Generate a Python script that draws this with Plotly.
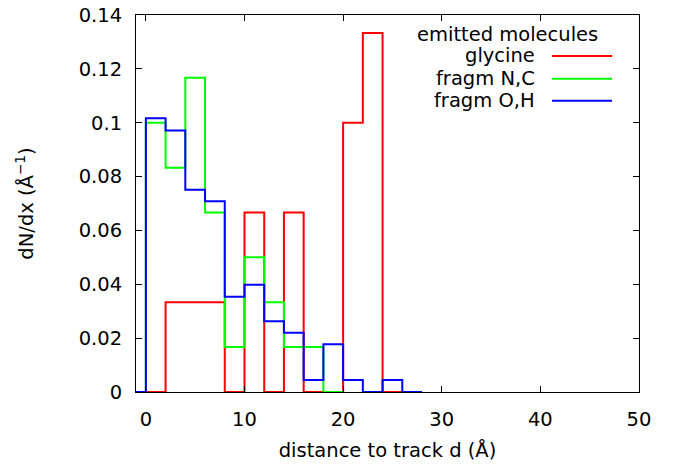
import plotly.graph_objects as go

# ---- data ----
bin_width = 2.0
glycine_start = 0.0
glycine = [0.0, 0.0333, 0.0333, 0.0333, 0.0, 0.0667, 0.0, 0.0667, 0.0, 0.0, 0.1, 0.1333, 0.0]
fragNC_start = 0.0
fragNC = [0.1, 0.0833, 0.1167, 0.0667, 0.0167, 0.05, 0.0333, 0.0167, 0.0167, 0.0]
fragOH_start = -2.0
fragOH = [0.0, 0.1017, 0.0971, 0.0751, 0.0708, 0.0354, 0.0398, 0.0263, 0.0220, 0.0045,
          0.0177, 0.0045, 0.0, 0.0045, 0.0]

series_names = ["glycine", "fragm N,C", "fragm O,H"]
series_colors = ["#ff0000", "#00ff00", "#0000ff"]
legend_title = "emitted molecules"
x_ticks = [0, 10, 20, 30, 40, 50]
y_ticks = [0, 0.02, 0.04, 0.06, 0.08, 0.1, 0.12, 0.14]
y_ticklabels = ["0", "0.02", "0.04", "0.06", "0.08", "0.1", "0.12", "0.14"]

FONT = "DejaVu Sans"
FS = 19.5


def steps(start, vals):
    xs = [start + i * bin_width for i in range(len(vals) + 1)]
    ys = list(vals) + [vals[-1]]
    return xs, ys


fig = go.Figure()
for (start, vals), name, col in zip(
        [(glycine_start, glycine), (fragNC_start, fragNC), (fragOH_start, fragOH)],
        series_names, series_colors):
    xs, ys = steps(start, vals)
    if start >= 0:
        xs = [xs[0]] + xs
        ys = [0.0] + ys
    fig.add_trace(go.Scatter(x=xs, y=ys, mode="lines", name=name,
                             line=dict(color=col, width=2, shape="hv"),
                             showlegend=False, hoverinfo="skip"))

# body margin is removed by post_script, so the figure starts at (0, 0)
W, H = 680, 464
# plot-area in window pixels: x 136..639, y 15..392
L, R, T, B = 136, 680 - 639, 15, 464 - 392
pw, ph = W - L - R, H - T - B


def px(x):
    return (x - L) / pw


def py(y):
    return (H - B - y) / ph


annotations = [dict(text=legend_title, x=px(507), y=py(34), xref="paper", yref="paper",
                    xanchor="center", yanchor="middle", showarrow=False,
                    font=dict(family=FONT, size=FS, color="black"))]
shapes = []
rows_y = [56, 78.7, 100.7]
for name, col, ry in zip(series_names, series_colors, rows_y):
    annotations.append(dict(text=name, x=px(537), y=py(ry), xref="paper", yref="paper",
                            xanchor="right", yanchor="middle", showarrow=False,
                            font=dict(family=FONT, size=FS, color="black")))
    shapes.append(dict(type="line", xref="paper", yref="paper",
                       x0=px(552), x1=px(612), y0=py(ry), y1=py(ry),
                       line=dict(color=col, width=2)))

axis_common = dict(showline=True, linecolor="black", linewidth=1, mirror="ticks",
                   ticks="inside", ticklen=6, tickcolor="black", tickwidth=1,
                   showgrid=False, zeroline=False, ticklabeloverflow="allow",
                   tickfont=dict(family=FONT, size=FS, color="black"))

fig.update_layout(
    width=W, height=H,
    margin=dict(l=L, r=R, t=T, b=B, autoexpand=False),
    paper_bgcolor="white", plot_bgcolor="white",
    font=dict(family=FONT, size=FS, color="black"),
    xaxis=dict(range=[-1, 50], tickvals=x_ticks, ticktext=[str(v) for v in x_ticks],
               ticklabelstandoff=10,
               title=dict(text="distance to track d (Å)", font=dict(family=FONT, size=FS),
                          standoff=12),
               **axis_common),
    yaxis=dict(range=[0, 0.14], tickvals=y_ticks, ticktext=y_ticklabels,
               ticklabelstandoff=9,
               title=dict(text="dN/dx (Å<sup>−1</sup>)", font=dict(family=FONT, size=FS),
                          standoff=39),
               **axis_common),
    annotations=annotations,
    shapes=shapes,
    showlegend=False,
)

fig.write_html("out.html", config={"displayModeBar": False},
               post_script="document.body.style.margin='0';document.body.style.overflow='hidden';")
